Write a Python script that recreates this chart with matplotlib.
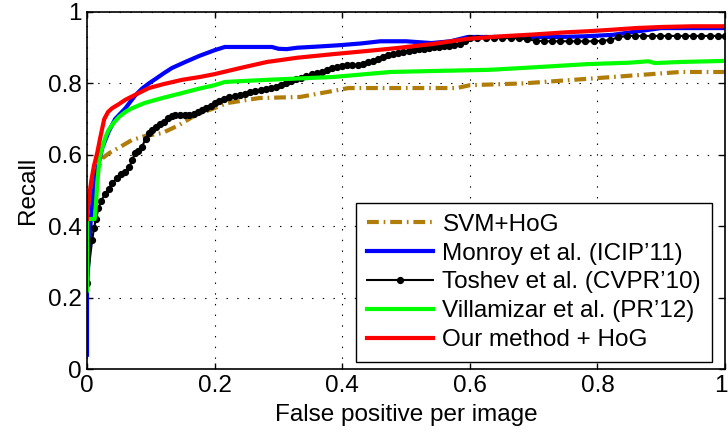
import matplotlib
matplotlib.use("Agg")
import matplotlib.pyplot as plt
from matplotlib.transforms import ScaledTranslation

plt.rcParams['font.family'] = ['Liberation Sans', 'DejaVu Sans']
plt.rcParams['lines.scale_dashes'] = False

# SVM + HoG baseline
svm_x = [0, 0.005, 0.012, 0.019, 0.024, 0.035, 0.05, 0.07, 0.09, 0.118, 0.144, 0.17,
         0.2, 0.22, 0.27, 0.334, 0.386, 0.41, 0.49, 0.58, 0.6, 0.684, 0.762, 0.824,
         0.93, 1.0]
svm_y = [0.40, 0.48, 0.54, 0.57, 0.59, 0.605, 0.62, 0.641, 0.652, 0.661, 0.683, 0.711,
         0.731, 0.745, 0.759, 0.762, 0.779, 0.787, 0.787, 0.787, 0.795, 0.80, 0.81, 0.818,
         0.832, 0.832]

# Monroy et al. (ICIP'11)
monroy_x = [0, 0, 0.003, 0.006, 0.010, 0.015, 0.020, 0.024, 0.034, 0.044, 0.060, 0.075,
            0.086, 0.097, 0.107, 0.12, 0.133, 0.154, 0.176, 0.2, 0.216, 0.25, 0.29, 0.30,
            0.313, 0.33, 0.36, 0.396, 0.43, 0.46, 0.5, 0.54, 0.57, 0.597, 0.65, 0.7, 0.74,
            0.78, 0.824, 0.86, 0.9, 0.95, 1.0]
monroy_y = [0.04, 0.22, 0.33, 0.42, 0.49, 0.55, 0.59, 0.62, 0.665, 0.70, 0.73, 0.765,
            0.785, 0.80, 0.812, 0.828, 0.843, 0.86, 0.877, 0.893, 0.902, 0.902, 0.902, 0.897,
            0.896, 0.900, 0.903, 0.907, 0.912, 0.918, 0.918, 0.913, 0.918, 0.930, 0.930, 0.930,
            0.930, 0.932, 0.936, 0.945, 0.955, 0.955, 0.955]

# Toshev et al. (CVPR'10)
toshev_x = [0, 0.008, 0.011, 0.014, 0.018, 0.022, 0.028, 0.034, 0.039, 0.047, 0.054, 0.06,
            0.066, 0.071, 0.075, 0.08, 0.086, 0.092, 0.097, 0.102, 0.108, 0.114, 0.12, 0.127,
            0.133, 0.138, 0.146, 0.153, 0.16, 0.167, 0.174, 0.18, 0.187, 0.194, 0.2, 0.207,
            0.215, 0.223, 0.232, 0.24, 0.248, 0.256, 0.264, 0.272, 0.28, 0.288, 0.296, 0.304,
            0.312, 0.32, 0.328, 0.336, 0.344, 0.352, 0.36, 0.368, 0.376, 0.384, 0.392, 0.40,
            0.408, 0.416, 0.424, 0.432, 0.44, 0.448, 0.456, 0.464, 0.472, 0.48, 0.488, 0.496,
            0.504, 0.512, 0.52, 0.528, 0.536, 0.544, 0.552, 0.56, 0.568, 0.576, 0.584, 0.592,
            0.6, 0.612, 0.625, 0.638, 0.651, 0.664, 0.677, 0.69, 0.703, 0.716, 0.729, 0.742,
            0.755, 0.768, 0.781, 0.794, 0.807, 0.82, 0.833, 0.846, 0.859, 0.872, 0.885, 0.898,
            0.911, 0.924, 0.937, 0.95, 0.963, 0.976, 0.989, 1.0]
toshev_y = [0.24, 0.36, 0.395, 0.42, 0.45, 0.47, 0.49, 0.505, 0.52, 0.535, 0.545, 0.552,
            0.565, 0.585, 0.605, 0.612, 0.622, 0.645, 0.66, 0.67, 0.678, 0.685, 0.692, 0.702,
            0.708, 0.711, 0.711, 0.712, 0.711, 0.715, 0.72, 0.725, 0.73, 0.738, 0.745, 0.75,
            0.757, 0.761, 0.764, 0.767, 0.771, 0.775, 0.778, 0.781, 0.784, 0.788, 0.791, 0.795,
            0.80, 0.806, 0.811, 0.816, 0.821, 0.826, 0.829, 0.833, 0.838, 0.843, 0.847, 0.85,
            0.851, 0.852, 0.852, 0.855, 0.86, 0.864, 0.869, 0.874, 0.879, 0.883, 0.886, 0.888,
            0.89, 0.893, 0.895, 0.897, 0.899, 0.901, 0.903, 0.905, 0.906, 0.907, 0.91, 0.918,
            0.926, 0.927, 0.927, 0.927, 0.927, 0.927, 0.926, 0.923, 0.92, 0.918, 0.918, 0.918,
            0.918, 0.918, 0.918, 0.918, 0.919, 0.922, 0.929, 0.933, 0.933, 0.933, 0.933, 0.933,
            0.933, 0.933, 0.933, 0.933, 0.933, 0.933, 0.933, 0.933]

# Villamizar et al. (PR'12)
villa_x = [0, 0, 0.012, 0.014, 0.016, 0.02, 0.024, 0.029, 0.034, 0.042, 0.05, 0.06, 0.07,
           0.09, 0.118, 0.149, 0.175, 0.2, 0.216, 0.282, 0.386, 0.475, 0.55, 0.63, 0.7,
           0.784, 0.85, 0.88, 0.89, 0.93, 1.0]
villa_y = [0.22, 0.42, 0.42, 0.46, 0.52, 0.594, 0.62, 0.65, 0.67, 0.69, 0.706, 0.72, 0.73,
           0.745, 0.759, 0.773, 0.785, 0.795, 0.804, 0.81, 0.818, 0.832, 0.835, 0.838, 0.845,
           0.854, 0.858, 0.862, 0.857, 0.86, 0.863]

# Our method + HoG
ours_x = [0, 0.003, 0.007, 0.011, 0.016, 0.021, 0.027, 0.033, 0.039, 0.05, 0.06, 0.08,
          0.097, 0.12, 0.149, 0.177, 0.2, 0.24, 0.282, 0.33, 0.386, 0.44, 0.486, 0.54, 0.597,
          0.65, 0.7, 0.75, 0.784, 0.82, 0.86, 0.9, 0.95, 1.0]
ours_y = [0.42, 0.48, 0.53, 0.57, 0.605, 0.65, 0.70, 0.72, 0.73, 0.742, 0.754, 0.772,
          0.787, 0.798, 0.81, 0.818, 0.826, 0.843, 0.86, 0.872, 0.882, 0.891, 0.899, 0.91,
          0.925, 0.932, 0.937, 0.943, 0.946, 0.95, 0.955, 0.958, 0.96, 0.96]

labels = ["SVM+HoG", "Monroy et al. (ICIP\u201911)", "Toshev et al. (CVPR\u201910)",
          "Villamizar et al. (PR\u201912)", "Our method + HoG"]
ticks = [0, 0.2, 0.4, 0.6, 0.8, 1]
tick_labels = ["0", "0.2", "0.4", "0.6", "0.8", "1"]

FS = 17.5

fig = plt.figure(figsize=(7.28, 4.32), dpi=100)
ax = fig.add_axes([87 / 728, 1 - 369 / 432, 638 / 728, 357 / 432])

ax.plot(svm_x, svm_y, color='#b07d0a', lw=3, dashes=(8.5, 3.5, 1.2, 3.5), label=labels[0])
ax.plot(monroy_x, monroy_y, color='#0000ff', lw=3, label=labels[1])
ax.plot(toshev_x, toshev_y, color='black', lw=1.5, marker='o', ms=4.2, label=labels[2])
ax.plot(villa_x, villa_y, color='#00ff00', lw=3, label=labels[3])
ax.plot(ours_x, ours_y, color='#ff0000', lw=3, label=labels[4])

ax.set_xlim(0, 1)
ax.set_ylim(0, 1)
ax.set_xticks(ticks)
ax.set_xticklabels(tick_labels)
ax.set_yticks(ticks)
ax.set_yticklabels(tick_labels)
ax.tick_params(direction='in', length=4.5, width=1, top=True, right=True,
               labelsize=FS, pad=4)
for s in ax.spines.values():
    s.set_linewidth(1.2)
ax.grid(True, color='black', lw=0.8, linestyle=(0, (1, 6.7)))
ax.set_axisbelow(True)

# keep the last x tick label inside the canvas
last = ax.get_xticklabels()[-1]
last.set_transform(last.get_transform() + ScaledTranslation(-3 / 72, 0, fig.dpi_scale_trans))

ax.set_xlabel("False positive per image", fontsize=FS, labelpad=5)
ax.set_ylabel("Recall", fontsize=FS, labelpad=6)

leg = ax.legend(loc='lower right', bbox_to_anchor=(0.9796, 0.0196), borderaxespad=0,
                fontsize=FS, handlelength=2.7, labelspacing=0.28, handletextpad=0.4,
                borderpad=0.45, fancybox=False, framealpha=1)
leg.get_frame().set_edgecolor('black')
leg.get_frame().set_linewidth(1.0)

fig.savefig("out.png", dpi=100)
